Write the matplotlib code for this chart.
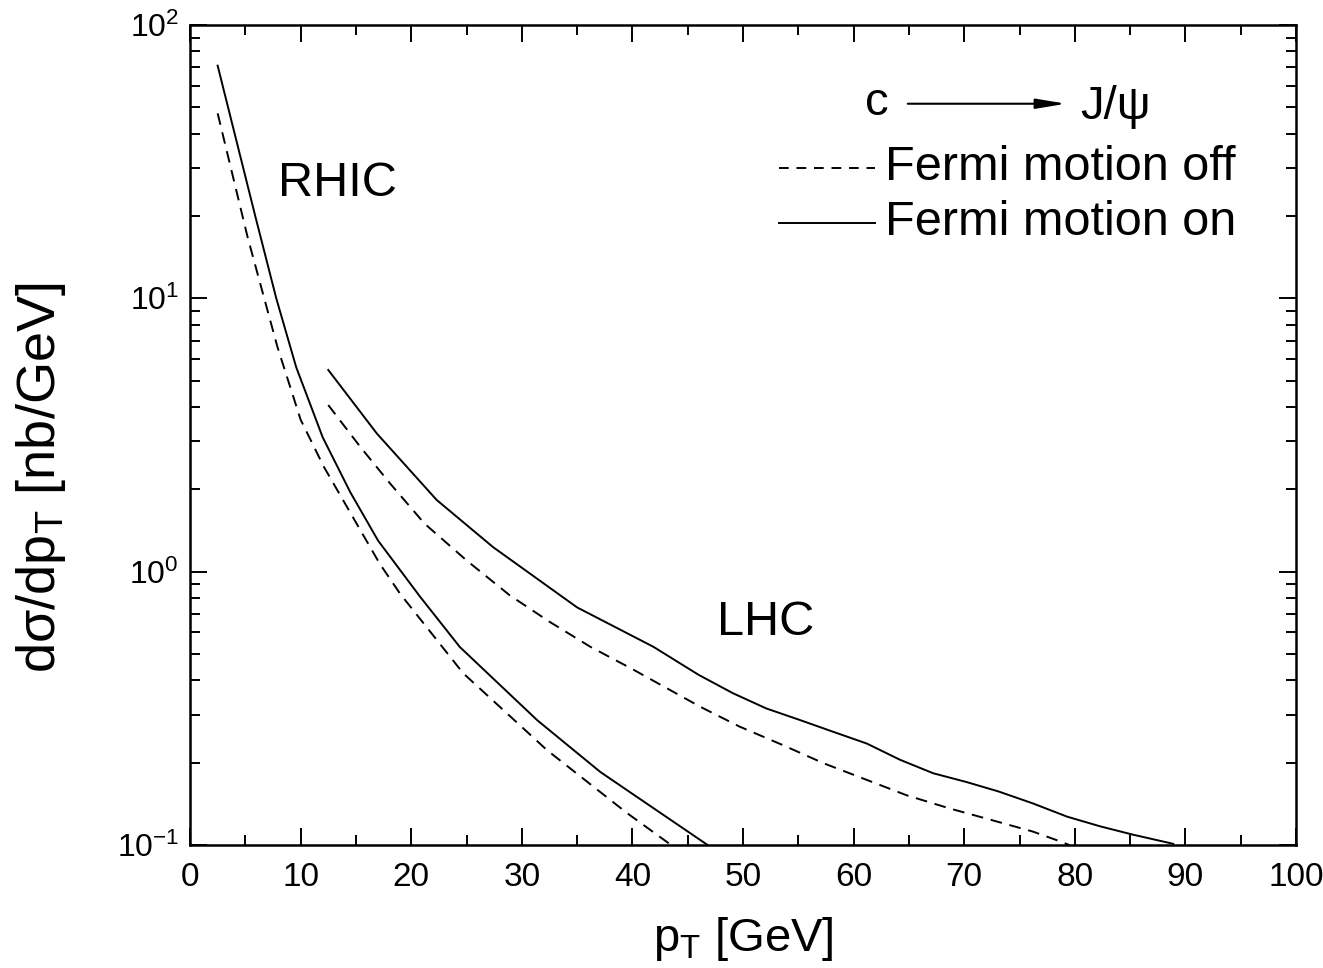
import matplotlib
matplotlib.use("Agg")
import matplotlib.pyplot as plt
from matplotlib.ticker import MultipleLocator, LogLocator, NullFormatter, LogFormatterSciNotation

plt.rcParams['font.family'] = ['Liberation Sans', 'DejaVu Sans']
plt.rcParams['mathtext.fontset'] = 'custom'
plt.rcParams['mathtext.rm'] = 'Liberation Sans'
plt.rcParams['mathtext.it'] = 'Liberation Sans:italic'
plt.rcParams['mathtext.bf'] = 'Liberation Sans:bold'

# ---- data ----
rhic_on_pt = [2.5, 5.9, 7.8, 9.6, 12.0, 14.5, 17.0, 20.8, 24.4, 31.4, 37.1, 41.95, 46.8]
rhic_on = [71.0, 20.0, 10.0, 5.6, 3.1, 1.95, 1.3, 0.81, 0.53, 0.286, 0.185, 0.136, 0.10]

rhic_off_pt = [2.5, 5.2, 7.9, 10.0, 12.1, 17.15, 19.0, 24.7, 32.3, 39.5, 43.5]
rhic_off = [47.5, 16.8, 6.65, 3.6, 2.42, 1.07, 0.83, 0.425, 0.222, 0.131, 0.10]

lhc_on_pt = [12.5, 16.9, 22.3, 27.4, 35.0, 41.9, 46.0, 49.1, 52.1, 55.1, 58.1, 61.2,
             64.2, 67.2, 70.2, 73.1, 76.2, 79.3, 82.3, 85.3, 88.9]
lhc_on = [5.47, 3.2, 1.83, 1.23, 0.74, 0.531, 0.419, 0.359, 0.316, 0.287, 0.260, 0.235,
          0.205, 0.183, 0.170, 0.157, 0.142, 0.127, 0.117, 0.109, 0.101]

lhc_off_pt = [12.5, 15.4, 18.1, 21.2, 25.0, 28.9, 32.5, 36.2, 40.0, 46.1, 49.7, 53.6,
              57.3, 61.2, 64.8, 68.7, 72.6, 76.2, 78.7, 79.5]
lhc_off = [4.07, 2.86, 2.10, 1.50, 1.10, 0.82, 0.656, 0.531, 0.44, 0.321, 0.271, 0.232,
           0.199, 0.173, 0.152, 0.136, 0.123, 0.112, 0.103, 0.10]

x_ticks = [0, 10, 20, 30, 40, 50, 60, 70, 80, 90, 100]

fig = plt.figure(figsize=(13.23, 9.68), dpi=100)
ax = fig.add_axes([190/1323, 1 - 845/968, (1296-190)/1323, (845-25)/968])

lw = 1.4
dash = (6, 4)
ax.plot(rhic_on_pt, rhic_on, color='k', lw=lw)
ax.plot(rhic_off_pt, rhic_off, color='k', lw=lw, dashes=dash)
ax.plot(lhc_on_pt, lhc_on, color='k', lw=lw)
ax.plot(lhc_off_pt, lhc_off, color='k', lw=lw, dashes=dash)

ax.set_yscale('log')
ax.set_xlim(0, 100)
ax.set_ylim(0.1, 100)
ax.set_xticks(x_ticks)
ax.set_xticklabels([str(t) for t in x_ticks])
ax.xaxis.set_minor_locator(MultipleLocator(5))
ax.yaxis.set_major_locator(LogLocator(base=10))
ax.yaxis.set_minor_locator(LogLocator(base=10, subs=range(2, 10)))
ax.yaxis.set_major_formatter(LogFormatterSciNotation())
ax.yaxis.set_minor_formatter(NullFormatter())

ax.tick_params(which='both', direction='in', top=True, right=True, width=1.4)
ax.tick_params(which='major', length=12)
ax.tick_params(which='minor', length=7)
ax.tick_params(axis='x', which='major', labelsize=24, pad=12)
ax.tick_params(axis='y', which='major', labelsize=23, pad=8)
for s in ax.spines.values():
    s.set_linewidth(1.8)

ax.set_xlabel('p$_\\mathrm{T}$ [GeV]', fontsize=34, va='center')
ax.xaxis.set_label_coords(0.5, -0.115)
ax.set_ylabel('dσ/dp$_\\mathrm{T}$ [nb/GeV]', fontsize=39, va='center')
ax.yaxis.set_label_coords(-0.135, 0.448)

ax.text(7.96, 26.4, 'RHIC', fontsize=35, ha='left', va='center')
ax.text(47.65, 0.649, 'LHC', fontsize=35, ha='left', va='center')

# legend-like annotation
ax.text(0.621, 0.905, 'c', fontsize=34, ha='center', va='center', transform=ax.transAxes)
ax.annotate('', xy=(0.792, 0.904), xytext=(0.649, 0.904), xycoords='axes fraction',
            arrowprops=dict(arrowstyle='-|>,head_length=1.8,head_width=0.3',
                            color='k', lw=1.5, shrinkA=0, shrinkB=0))
ax.text(0.805, 0.900, 'J/ψ', fontsize=34, ha='left', va='center', transform=ax.transAxes)
ax.plot([0.533, 0.619], [0.826, 0.826], color='k', lw=lw, dashes=(5, 4), transform=ax.transAxes)
ax.plot([0.533, 0.619], [0.759, 0.759], color='k', lw=lw, transform=ax.transAxes)
ax.text(0.628, 0.826, 'Fermi motion off', fontsize=35, ha='left', va='center', transform=ax.transAxes)
ax.text(0.628, 0.759, 'Fermi motion on', fontsize=35, ha='left', va='center', transform=ax.transAxes)

fig.savefig('out.png', dpi=100)
